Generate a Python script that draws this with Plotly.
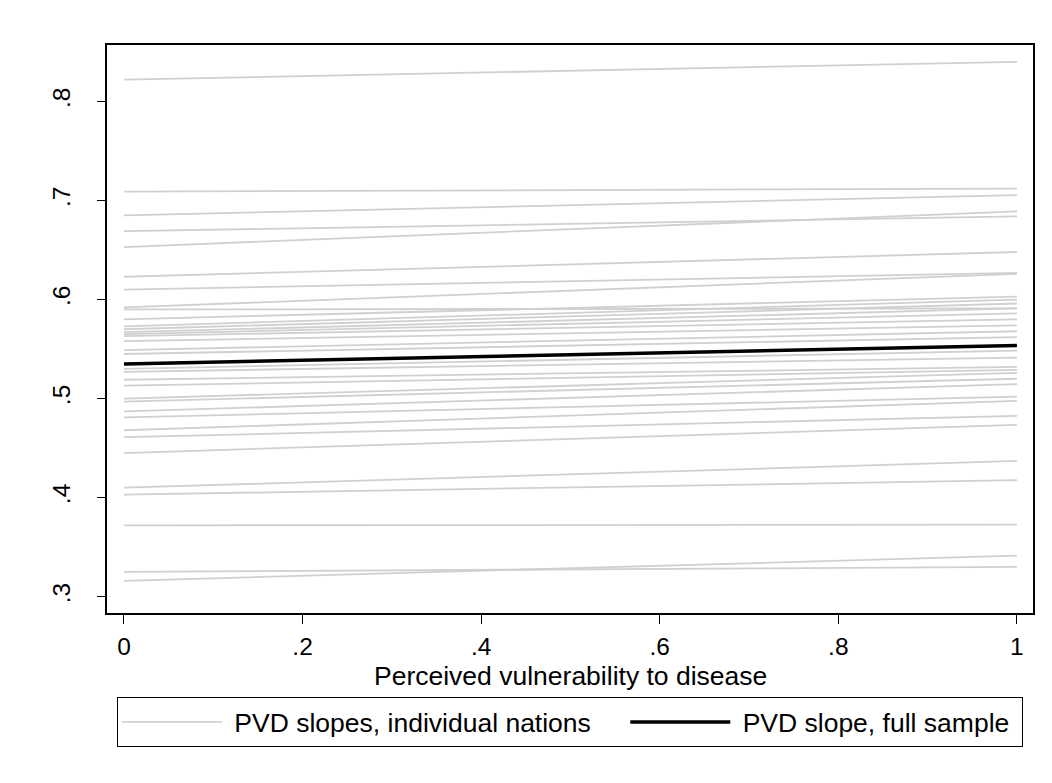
import plotly.graph_objects as go

# PVD values at the two ends (x = 0 and x = 1) of each nation's slope
x_ends = [0, 1]
nation_left = [0.822, 0.709, 0.669, 0.653, 0.623, 0.610, 0.592, 0.590, 0.580, 0.573,
               0.570, 0.567, 0.565, 0.563, 0.558, 0.549, 0.545, 0.530, 0.527, 0.519,
               0.513, 0.500, 0.497, 0.487, 0.481, 0.468, 0.461, 0.445, 0.410, 0.403,
               0.372, 0.325, 0.316]
nation_right = [0.840, 0.712, 0.684, 0.689, 0.648, 0.627, 0.626, 0.591, 0.603, 0.600,
                0.596, 0.591, 0.586, 0.580, 0.574, 0.568, 0.562, 0.5485, 0.5414, 0.532,
                0.529, 0.526, 0.520, 0.5145, 0.502, 0.4977, 0.4825, 0.4734, 0.437, 0.4176,
                0.3727, 0.330, 0.3414]
extra_left = [0.685]
extra_right = [0.7055]
full_left = 0.535
full_right = 0.5535

x_tickvals = [0, 0.2, 0.4, 0.6, 0.8, 1]
x_ticktext = ["0", ".2", ".4", ".6", ".8", "1"]
y_tickvals = [0.3, 0.4, 0.5, 0.6, 0.7, 0.8]
y_ticktext = [".3", ".4", ".5", ".6", ".7", ".8"]
x_title = "Perceived vulnerability to disease"

lefts = nation_left + extra_left
rights = nation_right + extra_right

GRAY = "rgb(208,208,208)"
NB = "\u00a0"
fig = go.Figure()
for i, (a, b) in enumerate(zip(lefts, rights)):
    fig.add_trace(go.Scatter(
        x=x_ends, y=[a, b], mode="lines",
        line=dict(color=GRAY, width=1.8),
        name=NB + "PVD slopes, individual nations" + NB * 4,
        legendgroup="nations", showlegend=(i == 0), hoverinfo="skip"))
fig.add_trace(go.Scatter(
    x=x_ends, y=[full_left, full_right], mode="lines",
    line=dict(color="black", width=3.5),
    name=NB + "PVD slope, full sample" + NB, showlegend=True))

FONT = "Liberation Sans, Arial, sans-serif"
FS = 26.5
fig.update_layout(
    width=1052, height=783,
    paper_bgcolor="white", plot_bgcolor="white",
    margin=dict(l=107, r=19, t=45, b=170),
    font=dict(family=FONT, size=FS, color="black"),
    showlegend=True,
    legend=dict(
        orientation="h", x=0.5, xanchor="center", y=-0.1479, yanchor="top",
        bordercolor="black", borderwidth=1.2, bgcolor="white",
        font=dict(family=FONT, size=FS, color="black"),
        itemwidth=100, tracegroupgap=0,
    ),
)
fig.add_annotation(
    x=0.5, xref="x", y=-0.1109, yref="paper", yanchor="middle",
    text=x_title, showarrow=False, font=dict(family=FONT, size=FS, color="black"))
fig.update_xaxes(
    range=[-0.019, 1.018], tickvals=x_tickvals, ticktext=x_ticktext,
    showgrid=False, zeroline=False, showline=True, mirror=True,
    linecolor="black", linewidth=1.5, automargin=False,
    ticks="outside", ticklen=9, tickwidth=1.2, tickcolor="black",
    ticklabelstandoff=2, tickfont=dict(family=FONT, size=24.5),
)
fig.update_yaxes(
    range=[0.2835, 0.857], tickvals=y_tickvals, ticktext=y_ticktext,
    showgrid=False, zeroline=False, showline=True, mirror=True,
    linecolor="black", linewidth=1.5, automargin=False,
    ticks="outside", ticklen=8, tickwidth=1.2, tickcolor="black",
    tickangle=-90, ticklabelstandoff=17, tickfont=dict(family=FONT, size=24.5),
)
fig.write_html("out.html", config={"displayModeBar": False},
               post_script="document.body.style.margin='0';")
